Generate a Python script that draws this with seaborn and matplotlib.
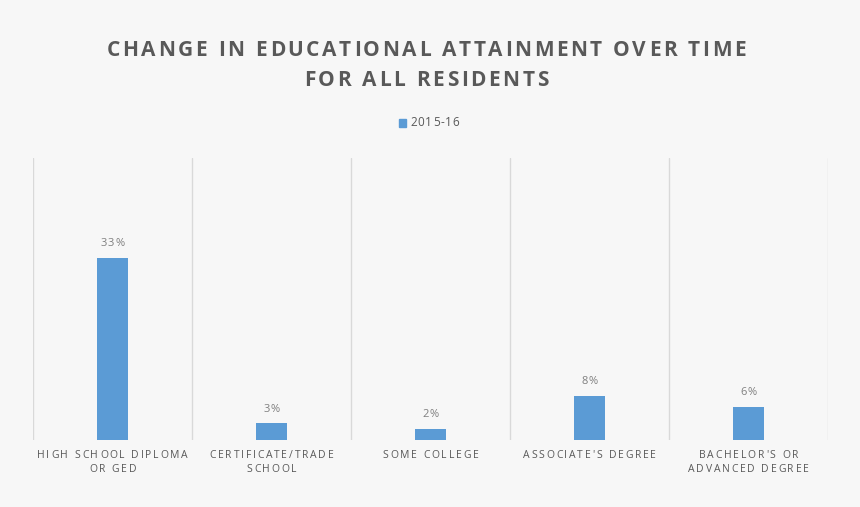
import numpy as np
import pandas as pd
import matplotlib
matplotlib.use("Agg")
import matplotlib.pyplot as plt
import matplotlib.transforms as mtransforms
from matplotlib.font_manager import FontProperties
import seaborn as sns

categories = ["HIGH SCHOOL DIPLOMA\nOR GED", "CERTIFICATE/TRADE\nSCHOOL", "SOME COLLEGE",
              "ASSOCIATE'S DEGREE", "BACHELOR'S OR\nADVANCED DEGREE"]
values = [33, 3, 2, 8, 6]
series_name = "2015-16"
title_lines = ["CHANGE IN EDUCATIONAL ATTAINMENT OVER TIME", "FOR ALL RESIDENTS"]

bg = "#f7f7f7"
bar_color = "#5b9bd5"
text_gray = "#595959"

sns.set_theme(style="white")
plt.rcParams["font.family"] = ["Open Sans", "DejaVu Sans"]

df = pd.DataFrame({"category": categories, "value": values, "series": series_name})

fig = plt.figure(figsize=(8.6, 5.07), dpi=100, facecolor=bg)
renderer = fig.canvas.get_renderer()


def spaced_text(x, y, s, transform, spacing, size, weight="normal", color=text_gray, ha="center"):
    # matplotlib has no letter-spacing, so draw char by char with extra gap (pixels)
    fp = FontProperties(family=["Open Sans", "DejaVu Sans"], size=size, weight=weight)
    widths = []
    for ch in s:
        w, _, _ = renderer.get_text_width_height_descent(ch, fp, ismath=False)
        if ch == " ":
            w = size * 0.28 * 100 / 72
        widths.append(w)
    total = sum(widths) + spacing * (len(s) - 1)
    if ha == "center":
        start = -total / 2
    else:
        start = 0
    off = start
    for ch, w in zip(s, widths):
        tr = mtransforms.offset_copy(transform, fig=fig, x=off, y=0, units="dots")
        fig.text(x, y, ch, transform=tr, fontproperties=fp, color=color, ha="left", va="center")
        off += w + spacing


ax = fig.add_axes([33 / 860, 1 - 440 / 507, (828 - 33) / 860, (440 - 158) / 507])
ax.set_facecolor(bg)

sns.barplot(data=df, x="category", y="value", hue="series", palette=[bar_color],
            width=0.19, saturation=1, linewidth=0, ax=ax, legend=False)

ax.set_xlim(-0.5, len(categories) - 0.5)
ax.set_ylim(0, 51)
for i in range(len(categories) + 1):
    ax.axvline(i - 0.5, color="#d9d9d9", lw=1, zorder=0)

for s in ax.spines.values():
    s.set_visible(False)
ax.set_yticks([])
ax.set_xticks([])
ax.set_xlabel("")
ax.set_ylabel("")

# data labels
for i, v in enumerate(values):
    y_px = ax.transData.transform((i, v))[1] + 14
    spaced_text(ax.transData.transform((i, 0))[0] / 860, y_px / 507, f"{v}%",
                fig.transFigure, 1.0, 8, color="#7f7f7f")

# category labels
for i, cat in enumerate(categories):
    x_fig = ax.transData.transform((i, 0))[0] / 860
    for j, line in enumerate(cat.split("\n")):
        spaced_text(x_fig, 1 - (455 + j * 14) / 507, line, fig.transFigure, 1.8, 7.5)

# title
spaced_text(426 / 860, 1 - 50 / 507, title_lines[0], fig.transFigure, 2.6, 15, weight="bold")
spaced_text(426 / 860, 1 - 81 / 507, title_lines[1], fig.transFigure, 2.6, 15, weight="bold")

# legend
fig.patches.append(plt.Rectangle((399 / 860, 1 - 127 / 507), 7 / 860, 8 / 507,
                                 transform=fig.transFigure, color=bar_color))
spaced_text(410 / 860, 1 - 123 / 507, series_name, fig.transFigure, 0.8, 8.5, ha="left")

fig.savefig("out.png", dpi=100, facecolor=bg)
